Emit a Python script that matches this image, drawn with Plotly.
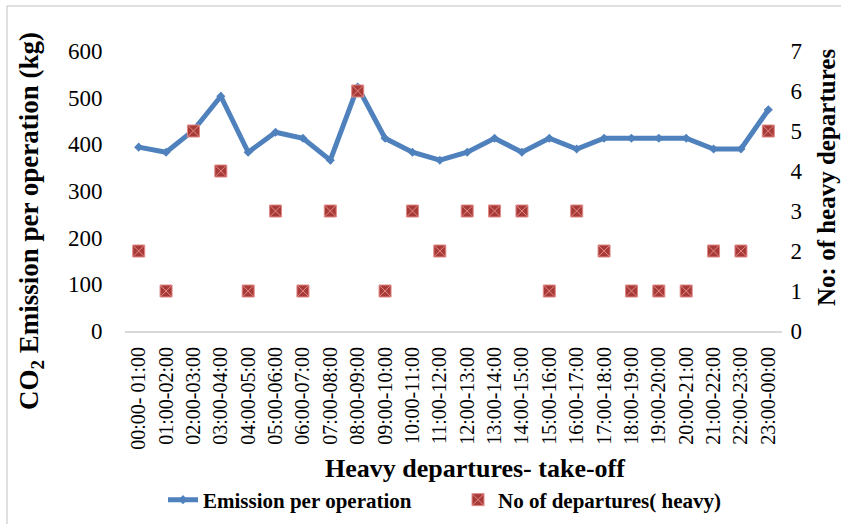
import plotly.graph_objects as go

categories = ["00:00- 01:00", "01:00-02:00", "02:00-03:00", "03:00-04:00", "04:00-05:00",
              "05:00-06:00", "06:00-07:00", "07:00-08:00", "08:00-09:00", "09:00-10:00",
              "10:00-11:00", "11:00-12:00", "12:00-13:00", "13:00-14:00", "14:00-15:00",
              "15:00-16:00", "16:00-17:00", "17:00-18:00", "18:00-19:00", "19:00-20:00",
              "20:00-21:00", "21:00-22:00", "22:00-23:00", "23:00-00:00"]
emission = [394, 383, 430, 503, 383, 426, 413, 366, 523, 413, 383, 366,
            383, 413, 383, 413, 390, 413, 413, 413, 413, 390, 390, 474]
departures = [2, 1, 5, 4, 1, 3, 1, 3, 6, 1, 3, 2, 3, 3, 3, 1, 3, 2, 1, 1, 1, 2, 2, 5]
left_ticks = [0, 100, 200, 300, 400, 500, 600]
right_ticks = [0, 1, 2, 3, 4, 5, 6, 7]

FONT = "Liberation Serif, Times New Roman, serif"

fig = go.Figure()
fig.add_trace(go.Scatter(
    x=categories, y=emission, name="<b>Emission per operation</b>",
    mode="lines+markers",
    line=dict(color="#4f81bd", width=5),
    marker=dict(symbol="diamond", size=7, color="#4f81bd"),
    yaxis="y",
))
fig.add_trace(go.Scatter(
    x=categories, y=departures, name="<b>No of departures( heavy)</b>",
    mode="markers",
    marker=dict(symbol="square-x", size=12, color="#a83a38",
                line=dict(color="#e08a88", width=1)),
    yaxis="y2",
))

W, H = 841, 524
L, R, T, B = 125, 59, 51, 193
pw, ph = W - L - R, H - T - B

def px(x):
    return (x - L) / pw

def py(y):
    return (H - B - y) / ph

fig.update_layout(
    width=W, height=H,
    margin=dict(l=L, r=R, t=T, b=B, autoexpand=False),
    paper_bgcolor="white", plot_bgcolor="white",
    font=dict(family=FONT, color="black"),
    xaxis=dict(
        type="category", tickangle=-90, showgrid=False,
        showline=True, linecolor="#d9d9d9", linewidth=2,
        tickfont=dict(size=20, family=FONT),
        ticks="outside", ticklen=6, tickcolor="rgba(0,0,0,0)",
        range=[-0.5, len(categories) - 0.5],
    ),
    yaxis=dict(
        range=[0, 600], tickvals=left_ticks, showgrid=False, zeroline=False,
        showline=False, tickfont=dict(size=23, family=FONT),
        ticks="outside", ticklen=17, tickcolor="rgba(0,0,0,0)",
    ),
    yaxis2=dict(
        range=[0, 7], tickvals=right_ticks, overlaying="y", side="right",
        showgrid=False, zeroline=False, showline=False,
        tickfont=dict(size=23, family=FONT),
        ticks="outside", ticklen=3, tickcolor="rgba(0,0,0,0)",
    ),
    showlegend=True,
    legend=dict(
        orientation="h", x=px(163), xanchor="left", y=py(500), yanchor="middle",
        font=dict(size=21, family=FONT), entrywidth=250, entrywidthmode="pixels",
        bgcolor="rgba(0,0,0,0)",
    ),
    shapes=[dict(
        type="rect", xref="paper", yref="paper",
        x0=px(7), x1=px(845), y0=py(530), y1=py(6),
        line=dict(color="#bfbfbf", width=1), fillcolor="rgba(0,0,0,0)",
    )],
    annotations=[
        dict(text="<b>CO<sub>2</sub> Emission per operation (kg)</b>", textangle=-90,
             xref="paper", yref="paper", x=px(31), y=py(221),
             xanchor="center", yanchor="middle", showarrow=False,
             font=dict(size=27, family=FONT)),
        dict(text="<b>No: of heavy departures</b>", textangle=-90,
             xref="paper", yref="paper", x=px(826), y=py(178),
             xanchor="center", yanchor="middle", showarrow=False,
             font=dict(size=25, family=FONT)),
        dict(text="<b>Heavy departures- take-off</b>",
             xref="paper", yref="paper", x=px(475), y=py(468),
             xanchor="center", yanchor="middle", showarrow=False,
             font=dict(size=26, family=FONT)),
    ],
)

fig.write_html("out.html")
